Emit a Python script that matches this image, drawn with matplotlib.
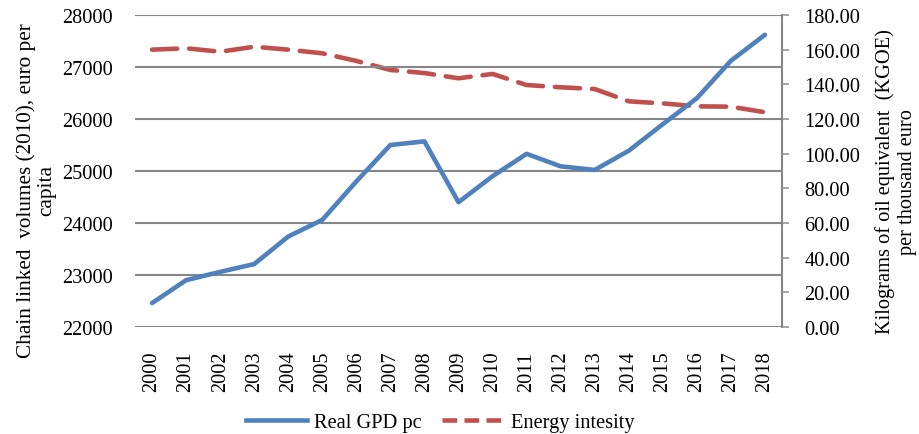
import matplotlib
matplotlib.use("Agg")
import matplotlib.pyplot as plt
from matplotlib.lines import Line2D

plt.rcParams['font.family'] = ['Liberation Serif', 'DejaVu Serif']

years = [str(y) for y in range(2000, 2019)]
gdp_pc = [22460, 22900, 23060, 23210, 23740, 24060, 24800, 25500, 25570, 24400,
          24900, 25330, 25090, 25020, 25390, 25900, 26400, 27120, 27620]
energy_intensity = [160.0, 160.8, 158.8, 161.7, 160.0, 157.9, 153.5, 148.3, 146.5, 143.5,
                    146.0, 139.6, 138.3, 137.3, 130.2, 129.0, 127.3, 127.1, 123.9]

left_ticks = [22000, 23000, 24000, 25000, 26000, 27000, 28000]
right_ticks = [0, 20, 40, 60, 80, 100, 120, 140, 160, 180]

W, H = 920, 435
fig = plt.figure(figsize=(W / 100, H / 100), dpi=100)
ax = fig.add_axes([135 / W, 1 - 328 / H, (782 - 135) / W, (328 - 16) / H])
ax2 = ax.twinx()

blue = '#4F81BD'
red = '#C0504D'
grid_c = '#868686'
fs = 14.7

x = list(range(len(years)))
ax.plot(x, gdp_pc, color=blue, lw=3.3, solid_capstyle='round', zorder=3)
ax2.plot(x, energy_intensity, color=red, lw=3.3, dashes=(5.5, 2.6), dash_capstyle='round', zorder=3)

ax.set_xlim(-0.5, len(years) - 0.5)
ax.set_ylim(22000, 28000)
ax.set_yticks(left_ticks)
ax.set_yticklabels([str(v) for v in left_ticks], fontsize=fs)
ax.set_xticks(x)
ax.set_xticklabels(years, rotation=90, fontsize=fs, va='top')
ax.tick_params(axis='x', length=0, pad=17)
ax.tick_params(axis='y', length=0, pad=16)
ax.yaxis.grid(True, color=grid_c, lw=1.5)
ax.set_axisbelow(True)

ax2.set_ylim(0, 180)
ax2.set_yticks(right_ticks)
ax2.set_yticklabels([f"{v:.2f}" for v in right_ticks], fontsize=fs)
ax2.tick_params(axis='y', direction='out', length=5, width=1.3, color='#A0A0A0', pad=11)

for a in (ax, ax2):
    for s in ('top', 'left', 'bottom', 'right'):
        a.spines[s].set_visible(False)
ax2.spines['right'].set_visible(True)
ax2.spines['right'].set_color(grid_c)
ax2.spines['right'].set_linewidth(1.5)
ax.set_zorder(ax2.get_zorder() + 1)
ax.patch.set_visible(False)

fig.text(36 / W, 1 - 191 / H, "Chain linked  volumes (2010), euro per\ncapita",
         rotation=90, ha='center', va='center', multialignment='center', fontsize=15.3,
         linespacing=1.1)
fig.text(896 / W, 1 - 182 / H, "Kilograms of oil equivalent  (KGOE)\nper thousand euro",
         rotation=90, ha='center', va='center', multialignment='center', fontsize=fs,
         linespacing=1.15)

handles = [Line2D([], [], color=blue, lw=3.3),
           Line2D([], [], color=red, lw=3.3, dashes=(3.2, 1.6))]
fig.legend(handles, ['Real GPD pc', 'Energy intesity'], loc='center',
           bbox_to_anchor=(440 / W, 1 - 423 / H), ncol=2, frameon=False, fontsize=fs,
           handlelength=3.0, handletextpad=0.35, columnspacing=1.0)

fig.savefig('out.png', dpi=100)
